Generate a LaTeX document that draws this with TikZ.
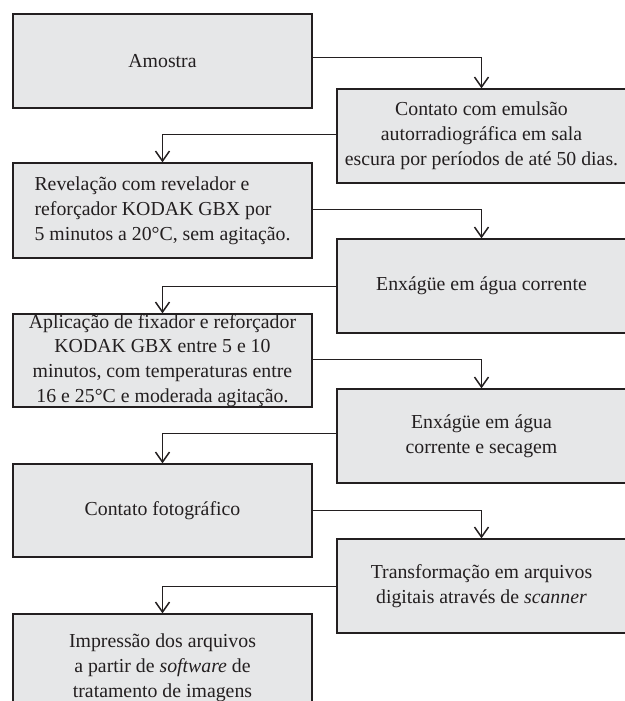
\documentclass[tikz,border=0pt]{standalone}
\usepackage{fontspec}
\setmainfont{Liberation Serif}
\usetikzlibrary{arrows.meta}
\definecolor{boxfill}{HTML}{E6E7E8}
\definecolor{ink}{HTML}{231F20}
\begin{document}
\begin{tikzpicture}[x=1pt,y=-1pt,
  box/.style={draw=ink,fill=boxfill,line width=1.3pt,rectangle,inner sep=0pt,align=center,
    font=\fontsize{19.8}{24.8}\selectfont,text=ink},
  lbox/.style={box,minimum width=299pt},
  rbox/.style={box,minimum width=289pt},
  flow/.style={draw=ink,line width=1pt,-{Straight Barb[length=10pt,width=14pt,line width=1.5pt]}}]
\useasboundingbox (0,0) rectangle (624,701);
\node[lbox,minimum height=94pt] (b1) at (162.5,61) {Amostra};
\node[rbox,minimum height=94pt] (b2) at (481.5,136) {Contato com emulsão\\autorradiográfica em sala\\escura por períodos de até 50 dias.};
\node[lbox,minimum height=95pt,align=left] (b3) at (162.5,210.5) {Revelação com revelador e\\reforçador KODAK GBX por\\5 minutos a 20°C, sem agitação.};
\node[rbox,minimum height=94pt] (b4) at (481.5,286) {Enxágüe em água corrente};
\node[lbox,minimum height=93pt] (b5) at (162.5,360.5) {Aplicação de fixador e reforçador\\KODAK GBX entre 5 e 10\\minutos, com temperaturas entre\\16 e 25°C e moderada agitação.};
\node[rbox,minimum height=94pt] (b6) at (481.5,436) {Enxágüe em água\\corrente e secagem};
\node[lbox,minimum height=93pt] (b7) at (162.5,510.5) {Contato fotográfico};
\node[rbox,minimum height=94pt] (b8) at (481.5,586) {Transformação em arquivos\\digitais através de \textit{scanner}};
\node[lbox,minimum height=108pt] (b9) at (162.5,668) {Impressão dos arquivos\\a partir de \textit{software} de\\tratamento de imagens};
\draw[flow] ([yshift=3pt]b1.east) -| (b2.north);
\draw[flow] ([yshift=2pt]b2.west) -| (b3.north);
\draw[flow] ([yshift=1.5pt]b3.east) -| (b4.north);
\draw[flow] (b4.west) -| (b5.north);
\draw[flow] ([yshift=1.5pt]b5.east) -| (b6.north);
\draw[flow] ([yshift=3pt]b6.west) -| (b7.north);
\draw[flow] (b7.east) -| (b8.north);
\draw[flow] (b8.west) -| (b9.north);
\end{tikzpicture}
\end{document}
